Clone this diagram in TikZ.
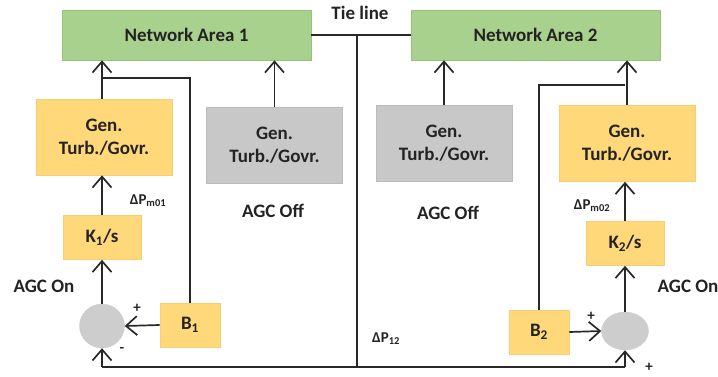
\documentclass[tikz,border=0pt]{standalone}
\usepackage{fontspec}
\setmainfont{Carlito}
\usetikzlibrary{arrows.meta,shapes.geometric}
\definecolor{greenF}{RGB}{169,209,142}
\definecolor{greenD}{RGB}{150,195,120}
\definecolor{orF}{RGB}{255,216,122}
\definecolor{orD}{RGB}{245,205,120}
\definecolor{grF}{RGB}{200,200,200}
\definecolor{grD}{RGB}{188,188,188}
\definecolor{sumF}{RGB}{205,205,205}
\definecolor{txt}{RGB}{35,35,35}
\definecolor{ln}{RGB}{40,40,40}
\begin{document}
\begin{tikzpicture}[x=1pt,y=-1pt,
  every node/.style={font=\bfseries\fontsize{19}{23}\selectfont, text=txt},
  netbox/.style={draw=greenD, fill=greenF, line width=0.6pt, minimum width=249pt, minimum height=50pt, inner sep=0pt},
  genbox/.style={draw=orD, fill=orF, line width=0.6pt, minimum width=136pt, minimum height=76pt, inner sep=0pt, align=center},
  offbox/.style={draw=grD, fill=grF, line width=0.6pt, minimum width=136pt, minimum height=76pt, inner sep=0pt, align=center},
  kbox/.style={draw=orD, fill=orF, line width=0.6pt, minimum width=78pt, minimum height=44pt, inner sep=0pt},
  bbox/.style={draw=orD, fill=orF, line width=0.6pt, minimum width=60pt, minimum height=44pt, inner sep=0pt},
  sumnode/.style={ellipse, fill=sumF, draw=sumF, inner sep=0pt},
  wire/.style={draw=ln, line width=1.7pt},
  arr/.style={wire, -{Straight Barb[length=11pt,width=19pt,line width=1.7pt]}},
  lab/.style={inner sep=0pt},
  small/.style={inner sep=0pt, font=\bfseries\fontsize{15}{17}\selectfont}]
\useasboundingbox (0,0) rectangle (718,376);

% blocks
\node[netbox] (na1) at (186.5,35) {Network Area 1};
\node[netbox] (na2) at (535.5,35) {Network Area 2};
\node[genbox] (gen1) at (104,137) {Gen.\\Turb./Govr.};
\node[offbox] (gray1) at (274.5,145) {Gen.\\Turb./Govr.};
\node[offbox] (gray2) at (444,143.5) {Gen.\\Turb./Govr.};
\node[genbox] (gen2) at (627,143.5) {Gen.\\Turb./Govr.};
\node[kbox] (k1) at (102,237.5) {K\textsubscript{1}/s};
\node[kbox] (k2) at (625,243.5) {K\textsubscript{2}/s};
\node[bbox] (b1) at (190,325) {B\textsubscript{1}};
\node[bbox] (b2) at (539,332) {B\textsubscript{2}};
\node[sumnode, minimum width=45pt, minimum height=44pt] (s1) at (102,326) {};
\node[sumnode, minimum width=47pt, minimum height=38pt] (s2) at (625,331) {};

% vertical signal paths
\draw[arr] (s1.north) -- (k1.south);
\draw[arr] (k1.north) -- (k1.north |- gen1.south);
\draw[arr] (gen1.north -| k1) -- (k1 |- na1.south);
\draw[arr] (gray1.north) -- (gray1.north |- na1.south);
\draw[arr] (gray2.north) -- (gray2.north |- na2.south);
\draw[arr] (gen2.north) -- (gen2.north |- na2.south);
\draw[arr] (s2.north) -- (s2.north |- k2.south);
\draw[arr] (k2.north) -- (k2.north |- gen2.south);

% bias feedback
\coordinate (fb1) at (102,78);
\coordinate (fb2) at (625,85);
\draw[wire] (b1.north) |- (fb1);
\draw[wire] (b2.north) |- (fb2);
\draw[arr] (b1.west) -- (s1.east);
\draw[arr] (b2.east) -- (s2.west);

% tie line
\draw[wire] (na1.east) -- (na2.west);
\coordinate (tj) at (357,35);
\coordinate (bl) at (102,367);
\coordinate (br) at (625,367);
\draw[wire] (tj) -- (tj |- bl);
\draw[wire] (bl) -- (br);
\draw[arr] (bl) -- (s1.south);
\draw[arr] (br) -- (s2.south);

% labels
\node[lab] (tl) at (360,13) {Tie line};
\node[small] (dpm1) at (148,201) {ΔP\textsubscript{m01}};
\node[small] (dpm2) at (592,206) {ΔP\textsubscript{m02}};
\node[small] (dp12) at (386,339) {ΔP\textsubscript{12}};
\node[lab] (on1) at (44,286) {AGC On};
\node[lab] (on2) at (688,286) {AGC On};
\node[lab] (off1) at (273,211) {AGC Off};
\node[lab] (off2) at (448,213) {AGC Off};
\node[small] (p1) at (137,308) {+};
\node[small] (m1) at (122,350) {-};
\node[small] (p2) at (591,316) {+};
\node[small] (p3) at (649,367) {+};
\end{tikzpicture}
\end{document}
